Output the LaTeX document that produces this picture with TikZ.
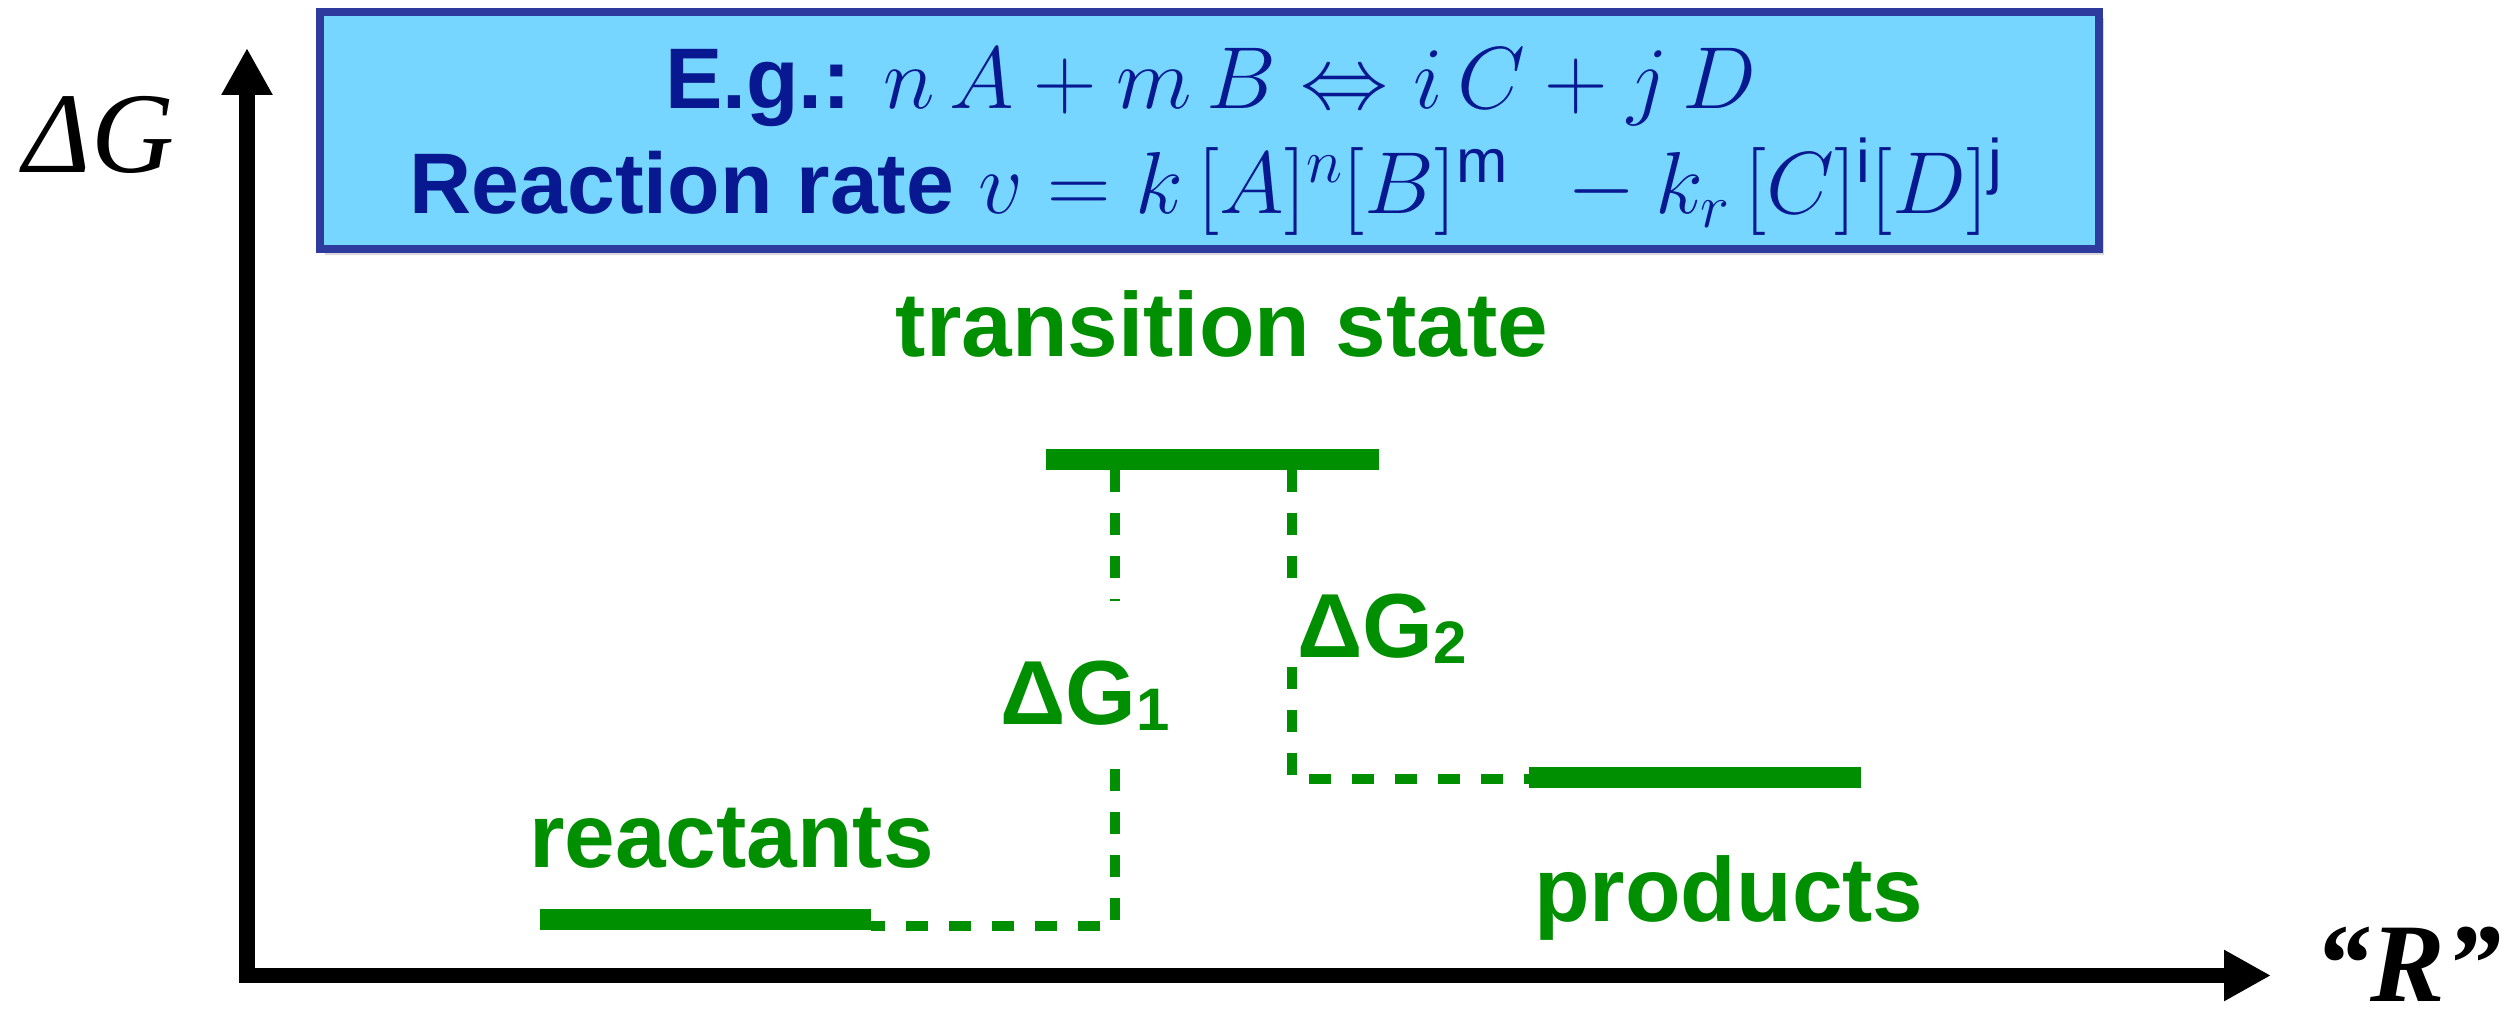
\RequirePackage{fix-cm}
\documentclass[tikz,border=0pt]{standalone}
\usepackage{fontspec}
\setmainfont{Liberation Sans}
\newfontfamily\tnr{Liberation Serif}
\usetikzlibrary{arrows.meta,shadows}
\definecolor{skyfill}{RGB}{118,214,255}
\definecolor{boxedge}{RGB}{46,58,158}
\definecolor{navy}{RGB}{8,24,145}
\definecolor{clover}{RGB}{0,143,0}
\newcommand{\mathbig}[1]{{\fontsize{88}{96}\selectfont$#1$}}
\tikzset{
 axisline/.style={line width=15.5pt, line join=miter, {Triangle[width=48pt,length=47pt]}-{Triangle[width=48pt,length=47pt]}},
 bar/.style={fill=clover, draw=none, inner sep=0, minimum height=21pt},
 dl/.style={draw=clover, line width=10.5pt, line join=miter, dash pattern=on 22pt off 21pt},
 lbl/.style={text=clover, font=\fontsize{91}{100}\selectfont\bfseries, inner sep=0, anchor=base west},
 eqbox/.style={fill=skyfill, draw=boxedge, line width=8pt, inner sep=0, drop shadow={opacity=0.3, shadow xshift=5pt, shadow yshift=-6pt}},
 eqtext/.style={text=navy, font=\fontsize{86}{94}\selectfont, inner sep=0, anchor=base},
 axlab/.style={inner sep=0, anchor=base, text=black},
}
\begin{document}
\begin{tikzpicture}[x=1pt,y=-1pt]
\useasboundingbox (0,0) rectangle (2520,1019);
% equation box
\node[eqbox, minimum width=1779pt, minimum height=237pt] (box) at (1209.5,130.5) {};
\node[eqtext] (l1) at (1211,109) {\textbf{E.g.:} \mathbig{n\,A+m\,B\Leftrightarrow i\,C+j\,D}};
\node[eqtext] (l2) at (1206,214) {\textbf{Reaction rate} \mathbig{v=k\,[A]^n[B]^{\mathrm{m}}\;\,-k_r\,[C]^{\mathrm{i}}[D]^{\mathrm{j}}}};
% axes
\coordinate (O) at (247,975.5);
\coordinate (ytip) at (247,48);
\coordinate (xtip) at (2271,975.5);
\draw[axisline] (ytip) -- (O) -- (xtip);
\node[axlab, font=\fontsize{115}{120}\selectfont\tnr\itshape] (ylab) at (99,173) {ΔG};
\node[axlab, text depth=0pt, font=\fontsize{112}{118}\selectfont\tnr\bfseries\itshape] (xlab) at (2408,1001) {“R”};
% levels
\node[bar, minimum width=333pt] (ts) at (1212.5,459.5) {};
\node[bar, minimum width=331pt] (react) at (705.5,919.5) {};
\node[bar, minimum width=332pt] (prod) at (1695,777.5) {};
% dashed connectors
\coordinate (g1top) at (1115,601);
\coordinate (g1bot) at (1115,769);
\coordinate (c1) at (1115,926);
\coordinate (g2top) at (1292,579);
\coordinate (g2bot) at (1292,667);
\coordinate (c2) at (1292,779);
\draw[dl] (g1top |- ts.south) -- (g1top);
\draw[dl] (g1bot) -- (c1) -- (react.east |- c1);
\draw[dl] (g2top |- ts.south) -- (g2top);
\draw[dl] (g2bot) -- (c2) -- (prod.west |- c2);
% labels
\node[lbl, anchor=base] (tslab) at (1222,356) {transition state};
\node[lbl] (rlab) at (529,867) {reactants};
\node[lbl] (plab) at (1534,921) {products};
\node[lbl] (dg1) at (1000,724) {ΔG\raisebox{-6pt}{\fontsize{60}{60}\selectfont 1}};
\node[lbl] (dg2) at (1297,657) {ΔG\raisebox{-6pt}{\fontsize{60}{60}\selectfont 2}};
\end{tikzpicture}
\end{document}
